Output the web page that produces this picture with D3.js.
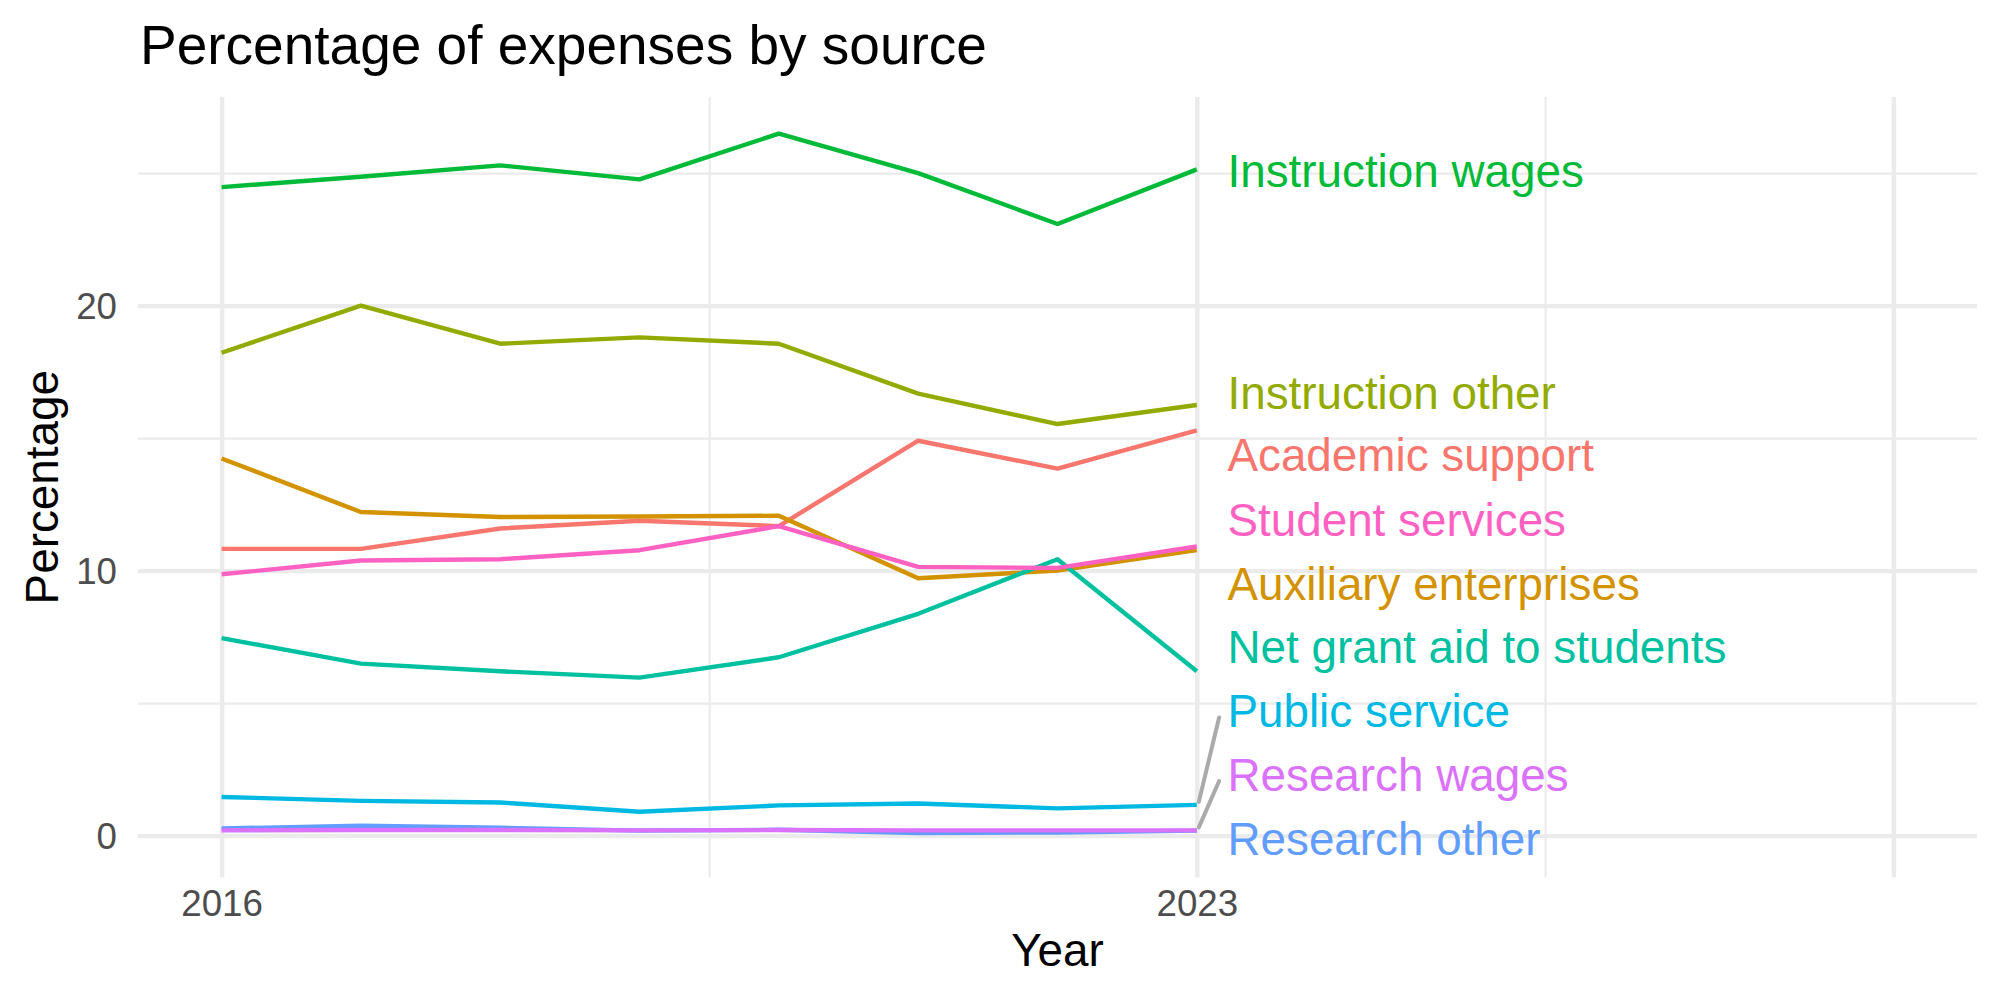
<!doctype html>
<html>
<head>
<title>Percentage of expenses by source</title>
<script src="https://d3js.org/d3.v7.min.js"></script>
<style>
  body {
    margin: 0;
    background: #fff;
  }
  svg {
    display: block;
  }
  text {
    font-family: "Liberation Sans", Arial, Helvetica, sans-serif;
  }
</style>
</head>
<body>
<script>

// data
var years = [2016, 2017, 2018, 2019, 2020, 2021, 2022, 2023];

var categories = ["Academic support", "Auxiliary enterprises", "Instruction other", "Instruction wages",
  "Net grant aid to students", "Public service", "Research other", "Research wages", "Student services"];

var academicSupport      = [10.82, 10.82, 11.59, 11.88, 11.68, 14.90, 13.85, 15.29];
var auxiliaryEnterprises = [14.23, 12.21, 12.02, 12.04, 12.07,  9.71, 10.00, 10.77];
var instructionOther     = [18.22, 20.00, 18.56, 18.80, 18.56, 16.68, 15.53, 16.25];
var instructionWages     = [24.47, 24.86, 25.29, 24.76, 26.49, 25.00, 23.08, 25.14];
var netGrantAid          = [ 7.45,  6.49,  6.20,  5.96,  6.73,  8.37, 10.43,  6.20];
var publicService        = [ 1.46,  1.31,  1.25,  0.90,  1.14,  1.21,  1.03,  1.16];
var researchOther        = [ 0.27,  0.37,  0.30,  0.19,  0.22,  0.10,  0.12,  0.19];
var researchWages        = [ 0.20,  0.21,  0.21,  0.20,  0.21,  0.20,  0.20,  0.20];
var studentServices      = [ 9.86, 10.38, 10.43, 10.77, 11.68, 10.14, 10.10, 10.91];

// where the repelled labels ended up (in percent)
var labelY = [14.38, 9.52, 16.73, 25.10, 7.12, 4.71, -0.10, 2.31, 11.92];

var colors = ["#F8766D", "#D39200", "#93AA00", "#00BA38", "#00C19F", "#00B9E3", "#619CFF", "#DB72FB", "#FF61C3"];

var yDomain = [-1.58, 27.87];
var xDomain = [2015.4, 2028.6];
var yBreaks = [0, 10, 20];
var yMinor = [5, 15, 25];
var xLabels = [2016, 2023];
var xGrid = [2016, 2023, 2028];
var xMinor = [2019.5, 2025.5];

var seriesValues = [academicSupport, auxiliaryEnterprises, instructionOther, instructionWages,
  netGrantAid, publicService, researchOther, researchWages, studentServices];

var series = categories.map(function(name, i) {
  return {
    name: name,
    color: colors[i],
    labelY: labelY[i],
    values: years.map(function(y, j) { return {year: y, value: seriesValues[i][j]}; })
  };
});

var W = 2000, H = 1000;
var margin = {top: 97, right: 23, bottom: 122.5, left: 138};
var width = W - margin.left - margin.right,
    height = H - margin.top - margin.bottom;

var svg = d3.select("body").append("svg").attr("width", W).attr("height", H);

var g = svg.append("g").attr("transform", "translate(" + margin.left + "," + margin.top + ")");

var xscale = d3.scaleLinear().domain(xDomain).range([0, width]);
var yscale = d3.scaleLinear().domain(yDomain).range([height, 0]);

// grid
g.append("g").call(d3.axisLeft(yscale).tickValues(yMinor).tickSize(-width).tickFormat(""))
  .call(function(a) { a.select(".domain").remove(); a.selectAll("line").attr("stroke", "#EBEBEB").attr("stroke-width", 2.2); });
g.append("g").attr("transform", "translate(0," + height + ")")
  .call(d3.axisBottom(xscale).tickValues(xMinor).tickSize(-height).tickFormat(""))
  .call(function(a) { a.select(".domain").remove(); a.selectAll("line").attr("stroke", "#EBEBEB").attr("stroke-width", 2.2); });
g.append("g").call(d3.axisLeft(yscale).tickValues(yBreaks).tickSize(-width).tickFormat(""))
  .call(function(a) { a.select(".domain").remove(); a.selectAll("line").attr("stroke", "#EBEBEB").attr("stroke-width", 4.4); });
g.append("g").attr("transform", "translate(0," + height + ")")
  .call(d3.axisBottom(xscale).tickValues(xGrid).tickSize(-height).tickFormat(""))
  .call(function(a) { a.select(".domain").remove(); a.selectAll("line").attr("stroke", "#EBEBEB").attr("stroke-width", 4.4); });

// tick labels
g.append("g").attr("transform", "translate(-21,0)")
  .call(d3.axisLeft(yscale).tickValues(yBreaks).tickSize(0).tickPadding(0).tickFormat(d3.format("d")))
  .call(function(a) {
    a.select(".domain").remove();
    a.selectAll("text").attr("fill", "#4D4D4D").style("font-size", "36.7px").attr("dy", "0.36em");
  });

g.append("g").attr("transform", "translate(0," + (height + 38) + ")")
  .call(d3.axisBottom(xscale).tickValues(xLabels).tickSize(0).tickPadding(0).tickFormat(d3.format("d")))
  .call(function(a) {
    a.select(".domain").remove();
    a.selectAll("text").attr("fill", "#4D4D4D").style("font-size", "36.7px").attr("dy", "0");
  });

// lines
var line = d3.line().x(function(d) { return xscale(d.year); }).y(function(d) { return yscale(d.value); });

g.selectAll(".series").data(series).enter().append("path")
  .attr("class", "series")
  .attr("fill", "none")
  .attr("stroke", function(d) { return d.color; })
  .attr("stroke-width", 4.4)
  .attr("stroke-linejoin", "round")
  .attr("d", function(d) { return line(d.values); });

// direct labels with leader segments for the ones pushed away
var lastYear = years[years.length - 1];
var labelX = lastYear + 0.22;

g.selectAll(".seg").data(series.filter(function(d) {
    return Math.abs(d.labelY - d.values[d.values.length - 1].value) > 1.5;
  })).enter().append("line")
  .attr("class", "seg")
  .attr("x1", xscale(lastYear) + 2)
  .attr("y1", function(d) { return yscale(d.values[d.values.length - 1].value) - 3; })
  .attr("x2", xscale(lastYear + 0.16))
  .attr("y2", function(d) { return yscale(d.labelY - 0.25); })
  .attr("stroke", "#AAAAAA")
  .attr("stroke-width", 4)
  .attr("stroke-linecap", "round");

g.selectAll(".lbl").data(series).enter().append("text")
  .attr("class", "lbl")
  .attr("x", xscale(labelX))
  .attr("y", function(d) { return yscale(d.labelY); })
  .attr("dy", "0.36em")
  .attr("fill", function(d) { return d.color; })
  .style("font-size", "45.8px")
  .text(function(d) { return d.name; });

// titles
svg.append("text")
  .attr("x", margin.left + 2)
  .attr("y", 64)
  .style("font-size", "55px")
  .attr("fill", "#000")
  .text("Percentage of expenses by source");

svg.append("text")
  .attr("x", margin.left + width / 2)
  .attr("y", 966)
  .attr("text-anchor", "middle")
  .style("font-size", "45.8px")
  .attr("fill", "#000")
  .text("Year");

svg.append("text")
  .attr("transform", "translate(58," + (margin.top + height / 2) + ") rotate(-90)")
  .attr("text-anchor", "middle")
  .style("font-size", "45.8px")
  .attr("fill", "#000")
  .text("Percentage");

</script>
</body>
</html>
